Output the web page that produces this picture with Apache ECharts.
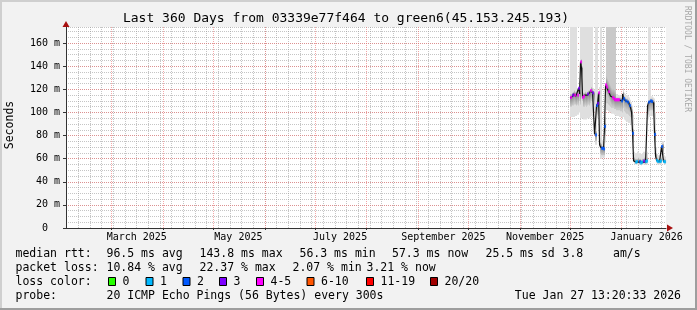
<!DOCTYPE html>
<html><head><meta charset="utf-8">
<script src="https://cdn.jsdelivr.net/npm/echarts@6/dist/echarts.min.js"></script>
<style>html,body{margin:0;padding:0;background:#f2f2f2}#c{width:697px;height:310px}</style>
</head><body><div id="c"></div>
<script>
// ---------- time frame ----------
const startTime = '2025-02-01T13:20:33';
const endTime   = '2026-01-27T13:20:33';
const monthStarts = ['2025-03-01','2025-04-01','2025-05-01','2025-06-01','2025-07-01','2025-08-01',
  '2025-09-01','2025-10-01','2025-11-01','2025-12-01','2026-01-01'];
const firstWeekStart = '2025-02-02';
const xLabelDates = ['2025-03-16','2025-05-16','2025-07-16','2025-09-16','2025-11-16','2026-01-16'];
const xLabelTexts = ['March 2025','May 2025','July 2025','September 2025','November 2025','January 2026'];

// ---------- y axis ----------
const yMax = 174;
const yTicks = [0,20,40,60,80,100,120,140,160];
const yTickLabels = ['0\u00a0\u00a0','20 m','40 m','60 m','80 m','100 m','120 m','140 m','160 m'];
const yMinorStep = 5;

// ---------- data: one value per 0.6-day step, starting at dataStart ----------
const dataStart = '2025-12-01T00:00:00';
const stepDays = 0.6;
const median = [
 112.5,113,114,115,116,115,114,116,115,121,
 116,143.8,138,113,114,115,114,115,116,115,
 117,119,118,117,116,81,80.6,106,108,117,
 72,70,69,69,68.5,88,124,122,120,118,
 116,114,113,113,112,111,111,111,111,111,
 110.5,111,110,116,112,111,110,110,109,108,
 106,104,100,82,58,57.5,57,57.5,58,57,
 57.5,56.3,57,57.5,58,57,57.5,58,106,109,
 110,110,109.5,109,108,81,62,58.5,57.5,57.5,
 57.5,58,70.6,70.6,57.5,57.3];
const smokeTop = [
 180,180,180,180,180,180,180, 121,122,127,
 180,180,180,180,180,180,180,180,180,180,180,180,180, 121,120,
 180,180,180, 113,122, 180,180, 76,75,75, 96,
 180,180,180,180,180,180,180,180,180,180,
 116,116,115,115,115,115,
 115,121,117,116,115,115,114,113,111,109,106, 98,
 66,65,65,66,66,65,65,64,65,66,66,65,65,66,
 180,180,180, 114,114,113,112, 100, 70, 64,63,63,63,64, 75,75, 63,62];
const smokeMidTop = [
 116,116,117,118,119,118,117, 118,117,123,
 120,146,140,117,117,118,117,118,119,118,120,122,121, 119,118,
 84,84,108, 110,119, 74,73, 71,71,71, 91,
 180,180,180,180,180,180,180,180,180,180,
 113,113,113,113,113,113,
 112,118,114,113,112,112,111,110,108,106,103, 86,
 61,60,60,60,61,60,60,59,60,60,61,60,60,61,
 108,111,112, 112,112,111,110, 85, 65, 61,60,60,60,61, 73,73, 60,59.5];
const smokeMidBottom = [
 105,105,106,106,107,107,106, 107,106,110,
 107,112,110,105,105,106,105,106,107,106,108,110,109, 108,107,
 75,75,98, 100,106, 64,63, 63,63,63, 80,
 108,108,107,106,105,104,104,104,103,103,
 102,102,102,102,101,101,
 100,104,101,100,99,99,98,97,96,94,90, 74,
 56.5,56,55.5,56,56.5,55.5,56,55,55.5,56,56.5,55.5,56,56.5,
 98,101,102, 102,102,101,100, 75, 58, 56.5,56,56,56,56.5, 63,63, 56,56];
const smokeBottom = [
 96,96,96,96,96,97,97, 98,98,100,
 95,95,95,94,94,94,94,95,95,95,96,97,96, 100,100,
 72,72,95, 97,99, 60,60, 61,61,61, 74,
 102,102,101,100,100,99,99,99,98,98,
 97,97,97,96,96,96,
 95,96,94,93,92,92,91,91,90,89,86, 70,
 55,55,54.5,55,55,54.5,55,54,54.5,55,55,54.5,55,55,
 94,96,97, 97,97,96,95, 72, 56, 55,55,55,55,55, 58,58, 55,55];
const lossClass = [
 null,4,null,3,null,4,null,null,4,3,
 null,4,null,4,4,null,null,null,3,null,
 null,4,null,3,null,null,2,2,3,4,
 null,null,2,2,2,2,4,4,null,4,
 null,null,null,4,4,4,4,4,4,4,
 null,null,2,null,2,null,2,null,2,null,
 2,null,null,2,null,null,1,1,null,null,
 2,1,1,null,3,null,1,1,null,2,
 null,2,2,null,null,2,null,1,1,null,
 1,1,2,null,1,1];

// ---------- legend ----------
const lossLabels = ['0','1','2','3','4-5','6-10','11-19','20/20'];
const lossColors = ['#26ff00','#00b8ff','#0059ff','#7e00ff','#ff00ff','#ff5500','#ff0000','#a10000'];
const rttStats  = ['96.5 ms avg','143.8 ms max','56.3 ms min','57.3 ms now','25.5 ms sd','3.8','am/s'];
const lossStats = ['10.84 % avg','22.37 % max','2.07 % min','3.21 % now'];
const probeText = '20 ICMP Echo Pings (56 Bytes) every 300s';
const stampText = 'Tue Jan 27 13:20:33 2026';
const titleText = 'Last 360 Days from 03339e77f464 to green6(45.153.245.193)';

// ---------- helpers ----------
function ms(s){ return Date.parse((s.length === 10 ? s + 'T00:00:00' : s) + 'Z'); }
function dayOf(s){ return (ms(s) - ms(startTime)) / 86400000; }
const spanDays = dayOf(endTime);
const monthDays = monthStarts.map(dayOf);
const labelDays = xLabelDates.map(dayOf);
const weekDays = [];
for (let d = dayOf(firstWeekStart); d < spanDays; d += 7) weekDays.push(d);
const yMinor = [];
for (let v = yMinorStep; v < yMax; v += yMinorStep) yMinor.push(v);
yMinor.push(yMax);
const d0 = dayOf(dataStart);
const dayAt = i => d0 + i * stepDays;

const smokeData = median.map((m, i) => [dayAt(i), smokeBottom[i], smokeMidBottom[i], m, smokeMidTop[i], smokeTop[i]]);
const lineData = median.map((m, i) => [dayAt(i), m]);
const lossData = [];
lossClass.forEach((c, i) => { if (c !== null) lossData.push({ value: [dayAt(i), median[i]], itemStyle: { color: lossColors[c] } }); });

const MONO = '"DejaVu Sans Mono", monospace';
const GRIDC = 'rgba(150,150,150,0.55)';
const MGRIDC = 'rgba(235,110,110,0.6)';
const AXISC = '#333';
const ARROWC = '#a81010';

function renderSmoke(params, api){
  const x = api.value(0);
  const cx = api.coord([x, 0])[0];
  const w = Math.max(1, Math.round(api.size([stepDays, 0])[0]));
  const left = Math.round(cx - w / 2);
  const yB = api.coord([x, api.value(1)])[1];
  const yMB = api.coord([x, api.value(2)])[1];
  const yM = api.coord([x, api.value(3)])[1];
  const yMT = api.coord([x, api.value(4)])[1];
  const yT = api.coord([x, api.value(5)])[1];
  const h = yMB - yMT;
  const f = h > 0 ? Math.min(1, Math.max(0, (yM - yMT) / h)) : 0.5;
  const k = h > 0 ? 9 / h : 0;
  const edge = '#c9c9c9', dark = '#8a8a8a';
  const stops = [{offset: 0, color: edge}];
  if (f - k > 0) stops.push({offset: f - k, color: edge});
  stops.push({offset: f, color: dark});
  if (f + k < 1) stops.push({offset: f + k, color: edge});
  stops.push({offset: 1, color: edge});
  return {
    type: 'group',
    children: [
      {type: 'rect', shape: {x: left, y: yT, width: w, height: yB - yT}, style: {fill: '#dfdfdf'}},
      {type: 'rect', shape: {x: left, y: yMT, width: w, height: h},
       style: {fill: {type: 'linear', x: 0, y: 0, x2: 0, y2: 1, colorStops: stops}}}
    ]
  };
}

const txt = (x, y, text, extra) => ({
  type: 'text', x: x, y: y, silent: true,
  style: Object.assign({text: text, fill: '#000', font: '11.5px ' + MONO,
    textVerticalAlign: 'middle', verticalAlign: 'middle', textAlign: 'left', align: 'left'}, extra || {})
});

const graphics = [];
// frame
graphics.push({type: 'rect', shape: {x: 0, y: 0, width: 697, height: 2}, style: {fill: '#cfcfcf'}, silent: true});
graphics.push({type: 'rect', shape: {x: 0, y: 0, width: 2, height: 310}, style: {fill: '#cfcfcf'}, silent: true});
graphics.push({type: 'rect', shape: {x: 695, y: 0, width: 2, height: 310}, style: {fill: '#9e9e9e'}, silent: true});
graphics.push({type: 'rect', shape: {x: 0, y: 308, width: 697, height: 2}, style: {fill: '#9e9e9e'}, silent: true});
// title & side texts
graphics.push(txt(346, 19, titleText, {font: '13px ' + MONO, textAlign: 'center', align: 'center'}));
graphics.push({type: 'text', x: 10, y: 125, rotation: Math.PI / 2, silent: true,
  style: {text: 'Seconds', fill: '#000', font: '11.5px ' + MONO, textAlign: 'center', align: 'center', textVerticalAlign: 'middle', verticalAlign: 'middle'}});
graphics.push({type: 'text', x: 687.5, y: 59, rotation: -Math.PI / 2, silent: true,
  style: {text: 'RRDTOOL / TOBI OETIKER', fill: '#a8a8a8', font: '8px ' + MONO, textAlign: 'center', align: 'center', textVerticalAlign: 'middle', verticalAlign: 'middle'}});
// legend rows
const row = [254.5, 268.5, 282, 296.5];
const rttX = [106.5, 199.5, 299.5, 392, 485.5, 562.5, 613];
const lossX = [106.5, 199.5, 292.5, 366.5];
graphics.push(txt(15.5, row[0], 'median rtt:'));
rttStats.forEach((t, i) => graphics.push(txt(rttX[i], row[0], t)));
graphics.push(txt(15.5, row[1], 'packet loss:'));
lossStats.forEach((t, i) => graphics.push(txt(lossX[i], row[1], t)));
graphics.push(txt(15.5, row[2], 'loss color:'));
const boxX = [108, 145.5, 182.5, 219, 256, 306.5, 366, 430];
lossLabels.forEach((t, i) => {
  graphics.push({type: 'rect', silent: true, shape: {x: boxX[i] + 0.5, y: 277.5, width: 7, height: 8},
    style: {fill: lossColors[i], stroke: '#000', lineWidth: 1}});
  graphics.push(txt(boxX[i] + 14.5, row[2], t));
});
graphics.push(txt(15.5, row[3], 'probe:'));
graphics.push(txt(106.5, row[3], probeText));
graphics.push(txt(681, row[3], stampText, {textAlign: 'right', align: 'right'}));

const hiddenAxisParts = {axisLine: {show: false}, axisLabel: {show: false}};

const option = {
  animation: false,
  backgroundColor: '#f2f2f2',
  grid: {left: 66, top: 27, width: 600, height: 201, show: true, backgroundColor: '#ffffff', borderWidth: 0, containLabel: false, outerBoundsMode: 'none'},
  xAxis: [
    Object.assign({type: 'value', min: 0, max: spanDays, position: 'bottom', z: 0,
      axisTick: {show: false, customValues: weekDays},
      splitLine: {show: true, lineStyle: {color: GRIDC, width: 1, type: [1, 1]}}}, hiddenAxisParts),
    {type: 'value', min: 0, max: spanDays, position: 'bottom', z: 1,
      axisLine: {show: true, onZero: false, lineStyle: {color: AXISC, width: 1}},
      axisTick: {show: true, inside: false, length: 2, customValues: monthDays, lineStyle: {color: AXISC}},
      axisLabel: {show: true, customValues: labelDays, margin: 4, color: '#000', fontFamily: MONO, fontSize: 10,
        formatter: v => { const k = labelDays.findIndex(d => Math.abs(d - v) < 1e-6); return k >= 0 ? xLabelTexts[k] : ''; }},
      splitLine: {show: true, lineStyle: {color: MGRIDC, width: 1, type: [1, 1]}}},
    {type: 'value', min: 0, max: spanDays, position: 'bottom', z: 2,
      axisLine: {show: true, onZero: false, symbol: ['none', 'triangle'], symbolSize: [7, 6], symbolOffset: [0, 4],
        lineStyle: {color: ARROWC, width: 0}},
      axisTick: {show: false}, axisLabel: {show: false}, splitLine: {show: false}}
  ],
  yAxis: [
    Object.assign({type: 'value', min: 0, max: yMax, position: 'left', z: 0,
      axisTick: {show: false, customValues: yMinor},
      splitLine: {show: true, lineStyle: {color: GRIDC, width: 1, type: [1, 1]}}}, hiddenAxisParts),
    {type: 'value', min: 0, max: yMax, position: 'left', z: 1,
      axisLine: {show: true, onZero: false, lineStyle: {color: AXISC, width: 1}},
      axisTick: {show: true, inside: false, length: 3, customValues: yTicks, lineStyle: {color: AXISC}},
      axisLabel: {show: true, customValues: yTicks, margin: 6, color: '#000', fontFamily: MONO, fontSize: 10,
        formatter: v => { const k = yTicks.indexOf(v); return k >= 0 ? yTickLabels[k] : ''; }},
      splitLine: {show: true, lineStyle: {color: MGRIDC, width: 1, type: [1, 1]}}},
    {type: 'value', min: 0, max: yMax, position: 'left', z: 2,
      axisLine: {show: true, onZero: false, symbol: ['none', 'triangle'], symbolSize: [7, 6], symbolOffset: [0, 3],
        lineStyle: {color: ARROWC, width: 0}},
      axisTick: {show: false}, axisLabel: {show: false}, splitLine: {show: false}}
  ],
  series: [
    {type: 'custom', xAxisIndex: 1, yAxisIndex: 1, clip: true, z: 2, silent: true,
      renderItem: renderSmoke, encode: {x: 0, y: 3}, data: smokeData},
    {type: 'line', xAxisIndex: 1, yAxisIndex: 1, z: 3, step: 'middle', showSymbol: false, silent: true,
      lineStyle: {color: '#111', width: 1.2}, data: lineData},
    {type: 'scatter', xAxisIndex: 1, yAxisIndex: 1, z: 4, symbol: 'rect', symbolSize: [2, 3], silent: true,
      data: lossData}
  ],
  graphic: graphics
};
const chart = echarts.init(document.getElementById('c'), null, {renderer: 'canvas'});
chart.setOption(option);
</script></body></html>
